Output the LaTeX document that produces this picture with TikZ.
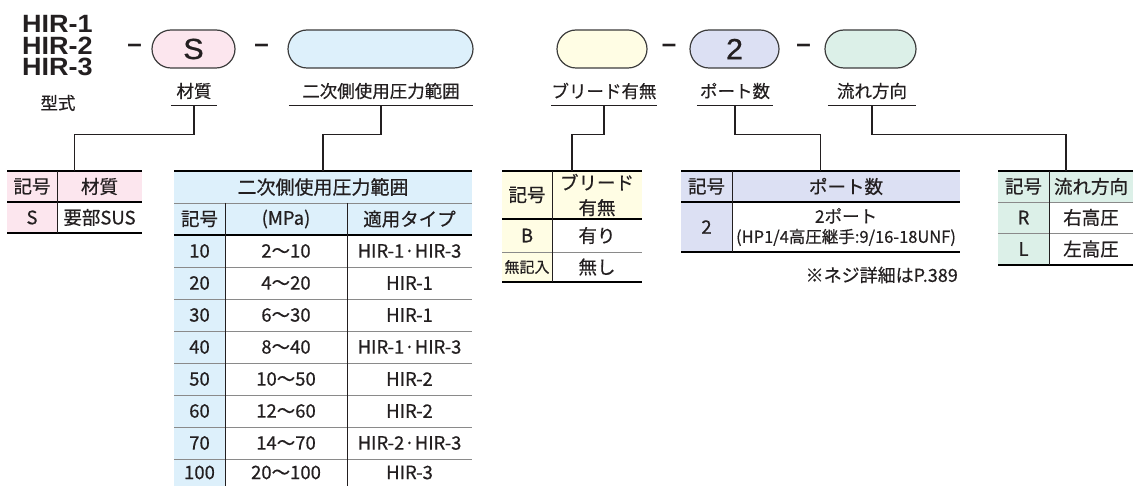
\documentclass[tikz,border=0pt]{standalone}
\usepackage{fontspec}
\usepackage{tikz}
\usetikzlibrary{shapes.misc}
\usepackage{xcolor}

\newfontfamily\jpfont{Noto Sans CJK JP}[FakeBold=0.5]
\newfontfamily\hirfont{Liberation Sans}
\newfontfamily\hirwide{Liberation Sans}[FakeStretch=1.08]
\newfontfamily\pillfont{Liberation Sans}[FakeStretch=1.05, FakeBold=1]

\definecolor{inkc}{HTML}{231F20}
\definecolor{pillline}{HTML}{3C3C3C}
\definecolor{rulegray}{HTML}{8A8A8A}
\definecolor{pinkbg}{HTML}{FCE6EE}
\definecolor{bluebg}{HTML}{DDF0FB}
\definecolor{yellowbg}{HTML}{FFFDE4}
\definecolor{lavbg}{HTML}{DCE0F3}
\definecolor{mintbg}{HTML}{DCF0E8}

\begin{document}
\begin{tikzpicture}[x=1pt, y=-1pt,
    every node/.style={text=inkc},
    pill/.style={rounded rectangle, draw=pillline, line width=1.2pt, minimum height=38, inner sep=0pt, font=\pillfont\fontsize{29}{29}\selectfont},
    hyph/.style={inner sep=0pt, font=\hirfont\bfseries\fontsize{26}{26}\selectfont},
    lbl/.style={inner sep=0pt, minimum height=28, font=\jpfont\fontsize{17.5}{17.5}\selectfont},
    tcell/.style={anchor=north west, inner sep=0pt, outer sep=0pt, font=\jpfont\fontsize{18.5}{25}\selectfont},
    uline/.style={draw=inkc, line width=1.3pt},
    conn/.style={draw=inkc, line width=1.2pt},
    rulebold/.style={draw=black, line width=2.2pt},
    rulethin/.style={draw=rulegray, line width=0.9pt},
    rulev/.style={draw=inkc, line width=0.9pt}]

    \useasboundingbox (0,0) rectangle (1135,486);

    % Model code row
    \node[anchor=west, inner sep=0pt, align=left, font=\hirwide\bfseries\fontsize{25}{21.5}\selectfont] (model) at (22,46) {HIR-1\\HIR-2\\HIR-3};
    \node[lbl] (modelLbl) at (58,103) {型式};

    \node[hyph] (d1) at (134.5,48.5) {–};
    \node[pill, fill=pinkbg, minimum width=83] (pS) at (193.5,49) {S};
    \node[hyph] (d2) at (261.5,48.5) {–};
    \node[pill, fill=bluebg, minimum width=185] (pP) at (380.5,49) {};
    \node[pill, fill=yellowbg, minimum width=90] (pB) at (602,49) {};
    \node[hyph] (d3) at (669,48.5) {–};
    \node[pill, fill=lavbg, minimum width=89] (pN) at (734.5,49) {2};
    \node[hyph] (d4) at (803.5,48.5) {–};
    \node[pill, fill=mintbg, minimum width=91] (pF) at (870.5,49) {};

    % Labels under the code
    \node[lbl, minimum width=46] (lblS) at (194,91) {材質};
    \node[lbl, minimum width=184] (lblP) at (381,91) {二次側使用圧力範囲};
    \node[lbl, minimum width=86] (lblB) at (604,91) {ブリード有無};
    \node[lbl, minimum width=76] (lblN) at (735,91) {ポート数};
    \node[lbl, minimum width=88] (lblF) at (872,91) {流れ方向};

    \draw[uline] (lblS.south west) -- (lblS.south east);
    \draw[uline] (lblP.south west) -- (lblP.south east);
    \draw[uline] (lblB.south west) -- (lblB.south east);
    \draw[uline] (lblN.south west) -- (lblN.south east);
    \draw[uline] (lblF.south west) -- (lblF.south east);

    % Table: material
    \begin{scope}[shift={(7,171)}]
        \coordinate (tabS) at (67.5,0);
        \node[tcell, fill=pinkbg, minimum width=50, minimum height=31] (s11) at (0,0) {記号};
        \node[tcell, fill=pinkbg, minimum width=85, minimum height=31] (s12) at (50,0) {材質};
        \node[tcell, fill=pinkbg, minimum width=50, minimum height=31] (s21) at (0,31) {S};
        \node[tcell, fill=white, minimum width=85, minimum height=31] (s22) at (50,31) {要部SUS};

        \draw[rulebold] (0,0) -- (135,0);
        \draw[rulebold] (0,31) -- (135,31);
        \draw[rulebold] (0,62) -- (135,62);
        \draw[rulev] (50,0) -- (50,62);
    \end{scope}

    % Table: secondary pressure range
    \begin{scope}[shift={(174,171)}]
        \coordinate (tabP) at (149,0);
        \node[tcell, fill=bluebg, minimum width=298, minimum height=32, font=\jpfont\fontsize{19}{19}\selectfont] (pt) at (0,0) {二次側使用圧力範囲};
        \node[tcell, fill=bluebg, minimum width=51, minimum height=32] (ph1) at (0,32) {記号};
        \node[tcell, fill=bluebg, minimum width=122, minimum height=32] (ph2) at (51,32) {(MPa)};
        \node[tcell, fill=bluebg, minimum width=125, minimum height=32] (ph3) at (173,32) {適用タイプ};

        \node[tcell, fill=bluebg, minimum width=51, minimum height=32] (p1a) at (0,64) {10};
        \node[tcell, minimum width=122, minimum height=32] (p1b) at (51,64) {2〜10};
        \node[tcell, minimum width=125, minimum height=32] (p1c) at (173,64) {HIR-1·HIR-3};
        \node[tcell, fill=bluebg, minimum width=51, minimum height=32] (p2a) at (0,96) {20};
        \node[tcell, minimum width=122, minimum height=32] (p2b) at (51,96) {4〜20};
        \node[tcell, minimum width=125, minimum height=32] (p2c) at (173,96) {HIR-1};
        \node[tcell, fill=bluebg, minimum width=51, minimum height=32] (p3a) at (0,128) {30};
        \node[tcell, minimum width=122, minimum height=32] (p3b) at (51,128) {6〜30};
        \node[tcell, minimum width=125, minimum height=32] (p3c) at (173,128) {HIR-1};
        \node[tcell, fill=bluebg, minimum width=51, minimum height=32] (p4a) at (0,160) {40};
        \node[tcell, minimum width=122, minimum height=32] (p4b) at (51,160) {8〜40};
        \node[tcell, minimum width=125, minimum height=32] (p4c) at (173,160) {HIR-1·HIR-3};
        \node[tcell, fill=bluebg, minimum width=51, minimum height=32] (p5a) at (0,192) {50};
        \node[tcell, minimum width=122, minimum height=32] (p5b) at (51,192) {10〜50};
        \node[tcell, minimum width=125, minimum height=32] (p5c) at (173,192) {HIR-2};
        \node[tcell, fill=bluebg, minimum width=51, minimum height=32] (p6a) at (0,224) {60};
        \node[tcell, minimum width=122, minimum height=32] (p6b) at (51,224) {12〜60};
        \node[tcell, minimum width=125, minimum height=32] (p6c) at (173,224) {HIR-2};
        \node[tcell, fill=bluebg, minimum width=51, minimum height=32] (p7a) at (0,256) {70};
        \node[tcell, minimum width=122, minimum height=32] (p7b) at (51,256) {14〜70};
        \node[tcell, minimum width=125, minimum height=32] (p7c) at (173,256) {HIR-2·HIR-3};
        \node[tcell, fill=bluebg, minimum width=51, minimum height=27] (p8a) at (0,288) {100};
        \node[tcell, minimum width=122, minimum height=27] (p8b) at (51,288) {20〜100};
        \node[tcell, minimum width=125, minimum height=27] (p8c) at (173,288) {HIR-3};

        \draw[rulebold] (0,0) -- (298,0);
        \draw[rulethin] (0,32) -- (298,32);
        \draw[rulebold] (0,64) -- (298,64);
        \draw[rulethin] (0,96) -- (298,96);
        \draw[rulethin] (0,128) -- (298,128);
        \draw[rulethin] (0,160) -- (298,160);
        \draw[rulethin] (0,192) -- (298,192);
        \draw[rulethin] (0,224) -- (298,224);
        \draw[rulethin] (0,256) -- (298,256);
        \draw[rulethin] (0,288) -- (298,288);
        \draw[rulev] (51,32) -- (51,315);
        \draw[rulev] (173,32) -- (173,315);
    \end{scope}

    % Table: bleed
    \begin{scope}[shift={(502,171)}]
        \coordinate (tabB) at (70,0);
        \node[tcell, fill=yellowbg, minimum width=50, minimum height=48] (b11) at (0,0) {記号};
        \node[tcell, fill=yellowbg, minimum width=90, minimum height=48, align=center] (b12) at (50,0) {ブリード\\有無};
        \node[tcell, fill=yellowbg, minimum width=50, minimum height=33] (b21) at (0,48) {B};
        \node[tcell, minimum width=90, minimum height=33] (b22) at (50,48) {有り};
        \node[tcell, fill=yellowbg, minimum width=50, minimum height=30, font=\jpfont\fontsize{15}{15}\selectfont] (b31) at (0,81) {無記入};
        \node[tcell, minimum width=90, minimum height=30] (b32) at (50,81) {無し};

        \draw[rulebold] (0,0) -- (140,0);
        \draw[rulebold] (0,48) -- (140,48);
        \draw[rulethin] (0,81) -- (140,81);
        \draw[rulebold] (0,111) -- (140,111);
        \draw[rulev] (50,0) -- (50,111);
    \end{scope}

    % Table: number of ports
    \begin{scope}[shift={(681,171)}]
        \coordinate (tabN) at (139.5,0);
        \node[tcell, fill=lavbg, minimum width=51, minimum height=31] (n11) at (0,0) {記号};
        \node[tcell, fill=lavbg, minimum width=228, minimum height=31] (n12) at (51,0) {ポート数};
        \node[tcell, fill=lavbg, minimum width=51, minimum height=50] (n21) at (0,31) {2};
        \node[tcell, minimum width=228, minimum height=50, align=center, font=\jpfont\fontsize{17.5}{20}\selectfont] (n22) at (51,31) {2ポート\\{\fontsize{16.5}{20}\selectfont (HP1/4高圧継手:9/16-18UNF)}};

        \draw[rulebold] (0,0) -- (279,0);
        \draw[rulebold] (0,31) -- (279,31);
        \draw[rulebold] (0,81) -- (279,81);
        \draw[rulev] (51,0) -- (51,81);

        \node[lbl, anchor=east, font=\jpfont\fontsize{18}{18}\selectfont] (note) at (277,104) {※ネジ詳細はP.389};
    \end{scope}

    % Table: flow direction
    \begin{scope}[shift={(998,171)}]
        \coordinate (tabF) at (68,0);
        \node[tcell, fill=mintbg, minimum width=51, minimum height=31] (f11) at (0,0) {記号};
        \node[tcell, fill=mintbg, minimum width=84, minimum height=31] (f12) at (51,0) {流れ方向};
        \node[tcell, fill=mintbg, minimum width=51, minimum height=31] (f21) at (0,31) {R};
        \node[tcell, minimum width=84, minimum height=31] (f22) at (51,31) {右高圧};
        \node[tcell, fill=mintbg, minimum width=51, minimum height=32] (f31) at (0,62) {L};
        \node[tcell, minimum width=84, minimum height=32] (f32) at (51,62) {左高圧};

        \draw[rulebold] (0,0) -- (135,0);
        \draw[rulethin] (0,31) -- (135,31);
        \draw[rulethin] (0,62) -- (135,62);
        \draw[rulebold] (0,94) -- (135,94);
        \draw[rulev] (51,0) -- (51,94);
    \end{scope}

    % Connectors from labels to tables
    \draw[conn] (lblS.south) -- ++(0,29) -| (tabS);
    \draw[conn] (lblP.south) -- ++(0,29) -| (tabP);
    \draw[conn] (lblB.south) -- ++(0,29) -| (tabB);
    \draw[conn] (lblN.south) -- ++(0,29) -| (tabN);
    \draw[conn] (lblF.south) -- ++(0,29) -| (tabF);

\end{tikzpicture}
\end{document}
